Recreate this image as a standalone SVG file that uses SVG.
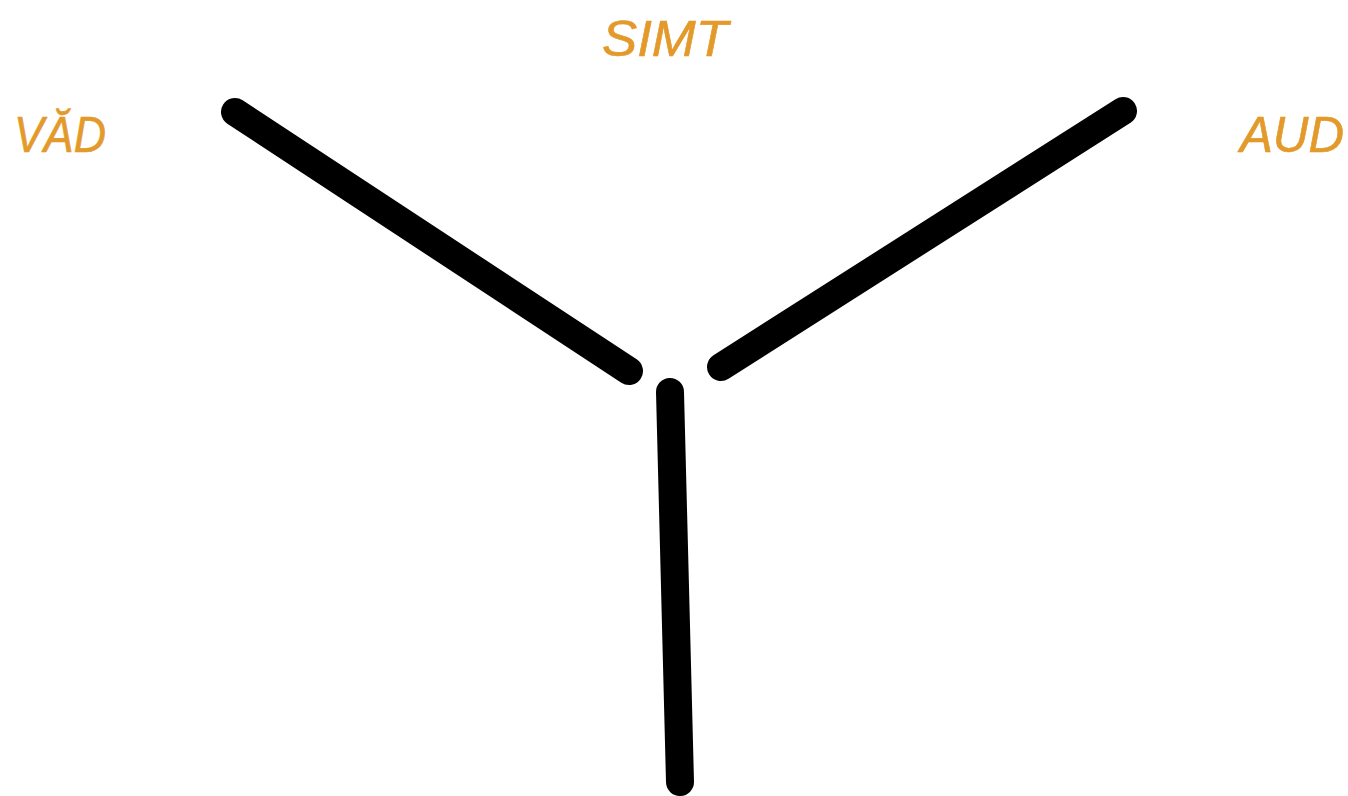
<svg xmlns="http://www.w3.org/2000/svg" width="1348" height="796" viewBox="0 0 1348 796">
<style>
.lbl{font-family:"Liberation Sans",Arial,sans-serif;font-style:italic;font-size:50px;fill:#E39A2B;stroke:#E39A2B;stroke-width:0.6}
.arm{stroke:#000;stroke-width:28;stroke-linecap:round;fill:none}
</style>
<rect width="1348" height="796" fill="#fff"/>
<g id="connectors">
<line class="arm" x1="235" y1="112" x2="629" y2="371"/>
<line class="arm" x1="1123" y1="111" x2="721" y2="367"/>
<line class="arm" x1="670" y1="392" x2="680" y2="782"/>
</g>
<g id="node-vad"><text class="lbl" x="14" y="152" textLength="92" lengthAdjust="spacingAndGlyphs">VĂD</text></g>
<g id="node-simt"><text class="lbl" x="602" y="56" textLength="126" lengthAdjust="spacingAndGlyphs">SIMT</text></g>
<g id="node-aud"><text class="lbl" x="1240" y="152" textLength="104" lengthAdjust="spacingAndGlyphs">AUD</text></g>
</svg>
